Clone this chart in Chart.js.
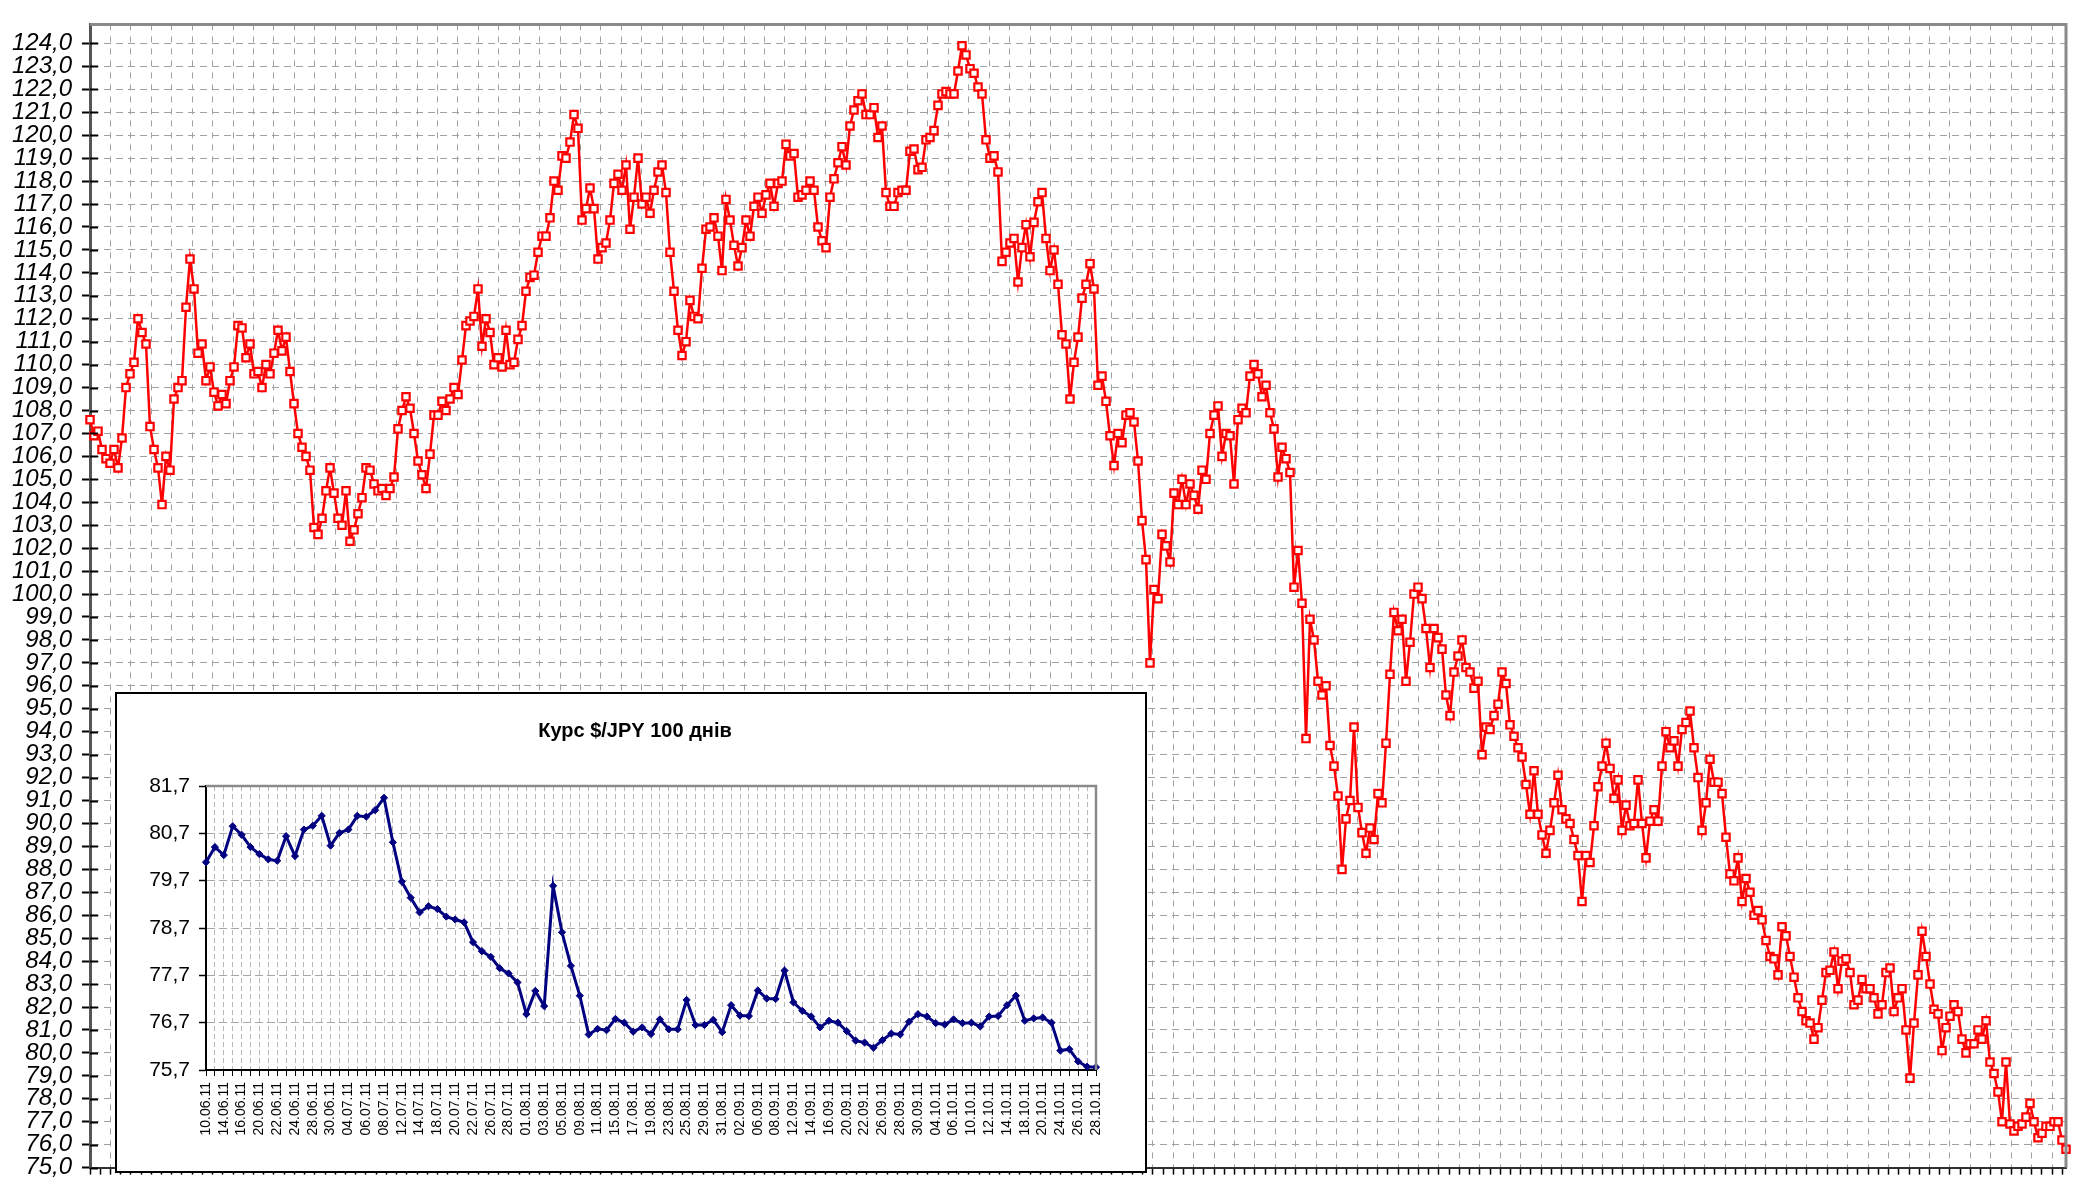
<!DOCTYPE html>
<html>
<head>
<meta charset="utf-8">
<script src="https://cdn.jsdelivr.net/npm/chart.js@4.4.1/dist/chart.umd.min.js"></script>
<style>
  html, body { margin: 0; padding: 0; background: #ffffff; }
  #wrap { position: relative; width: 2078px; height: 1192px; background: #ffffff; overflow: hidden; }
  #mainCanvas { position: absolute; left: 0; top: 0; }
  #insetBox { position: absolute; left: 115px; top: 692px; width: 1032px; height: 481px;
              box-sizing: border-box; border: 2px solid #000; background: #fff; }
  #insetCanvas { position: absolute; left: 0; top: 0; }
</style>
</head>
<body>
<div id="wrap">
  <canvas id="mainCanvas" width="2078" height="1192"></canvas>
  <div id="insetBox"><canvas id="insetCanvas" width="1028" height="477"></canvas></div>
</div>
<script>
// ---------------- DATA ----------------
// Main series: USD/JPY course (red)
const mainValues = [
107.6,106.9,107.1,106.3,105.9,105.7,106.3,105.5,106.8,109.0,
109.6,110.1,112.0,111.4,110.9,107.3,106.3,105.5,103.9,106.0,
105.4,108.5,109.0,109.3,112.5,114.6,113.3,110.5,110.9,109.3,
109.9,108.8,108.2,108.7,108.3,109.3,109.9,111.7,111.6,110.3,
110.9,109.6,109.7,109.0,110.0,109.6,110.5,111.5,110.6,111.2,
109.7,108.3,107.0,106.4,106.0,105.4,102.9,102.6,103.3,104.5,
105.5,104.4,103.3,103.0,104.5,102.3,102.8,103.5,104.2,105.5,
105.4,104.8,104.5,104.6,104.3,104.6,105.1,107.2,108.0,108.6,
108.1,107.0,105.8,105.2,104.6,106.1,107.8,107.8,108.4,108.0,
108.5,109.0,108.7,110.2,111.7,111.9,112.1,113.3,110.8,112.0,
111.4,110.0,110.3,109.9,111.5,110.0,110.1,111.1,111.7,113.2,
113.8,113.9,114.9,115.6,115.6,116.4,118.0,117.6,119.1,119.0,
119.7,120.9,120.3,116.3,116.8,117.7,116.8,114.6,115.1,115.3,
116.3,117.9,118.3,117.6,118.7,115.9,117.3,119.0,117.0,117.3,
116.6,117.6,118.4,118.7,117.5,114.9,113.2,111.5,110.4,111.0,
112.8,112.1,112.0,114.2,115.9,116.0,116.4,115.6,114.1,117.2,
116.3,115.2,114.3,115.1,116.3,115.6,116.9,117.3,116.6,117.4,
117.9,116.9,117.9,118.0,119.6,119.1,119.2,117.3,117.4,117.6,
118.0,117.6,116.0,115.4,115.1,117.3,118.1,118.8,119.5,118.7,
120.4,121.1,121.5,121.8,120.9,120.9,121.2,119.9,120.4,117.5,
116.9,116.9,117.5,117.6,117.6,119.3,119.4,118.5,118.6,119.8,
119.9,120.2,121.3,121.8,121.9,121.8,121.8,122.8,123.9,123.5,
122.9,122.7,122.1,121.8,119.8,119.0,119.1,118.4,114.5,114.9,
115.3,115.5,113.6,115.1,116.1,114.7,116.2,117.1,117.5,115.5,
114.1,115.0,113.5,111.3,110.9,108.5,110.1,111.2,112.9,113.5,
114.4,113.3,109.1,109.5,108.4,106.9,105.6,107.0,106.6,107.8,
107.9,107.5,105.8,103.2,101.5,97.0,100.2,99.8,102.6,102.1,
101.4,104.4,103.9,105.0,103.9,104.8,104.3,103.7,105.4,105.0,
107.0,107.8,108.2,106.0,107.0,106.9,104.8,107.6,108.1,107.9,
109.5,110.0,109.6,108.6,109.1,107.9,107.2,105.1,106.4,105.9,
105.3,100.3,101.9,99.6,93.7,98.9,98.0,96.2,95.6,96.0,
93.4,92.5,91.2,88.0,90.2,91.0,94.2,90.7,89.6,88.7,
89.8,89.3,91.3,90.9,93.5,96.5,99.2,98.4,98.9,96.2,
97.9,100.0,100.3,99.8,98.5,96.8,98.5,98.1,97.6,95.6,
94.7,96.6,97.3,98.0,96.8,96.6,95.9,96.2,93.0,94.2,
94.1,94.7,95.2,96.6,96.1,94.3,93.8,93.3,92.9,91.7,
90.4,92.3,90.4,89.5,88.7,89.7,90.9,92.1,90.6,90.2,
90.0,89.3,88.6,86.6,88.6,88.3,89.9,91.6,92.5,93.5,
92.4,91.1,91.9,89.7,90.8,89.9,90.0,91.9,90.0,88.5,
90.1,90.6,90.1,92.5,94.0,93.3,93.6,92.5,94.1,94.4,
94.9,93.3,92.0,89.7,90.9,92.8,91.8,91.8,91.3,89.4,
87.8,87.5,88.5,86.6,87.6,87.0,86.0,86.2,85.8,84.9,
84.2,84.1,83.4,85.5,85.1,84.2,83.3,82.4,81.8,81.4,
81.3,80.6,81.1,82.3,83.5,83.6,84.4,82.8,84.0,84.1,
83.5,82.1,82.3,83.2,82.8,82.8,82.4,81.7,82.1,83.5,
83.7,81.8,82.4,82.8,81.0,78.9,81.3,83.4,85.3,84.2,
83.0,81.9,81.7,80.1,81.1,81.6,82.1,81.8,80.6,80.0,
80.4,80.4,81.0,80.6,81.4,79.6,79.1,78.3,77.0,79.6,
76.9,76.6,76.8,76.9,77.2,77.8,77.0,76.3,76.5,76.8,
76.8,77.0,77.0,76.2,75.8
];
const mainCategories = mainValues.map((v, i) => String(i + 1));
const mainYMin = 75;
const mainYMax = 124.83;
const mainYTickValues = [];
for (let v = 75; v <= 124; v++) mainYTickValues.push(v);
const mainXTickCount = 194; // minor tick marks along the bottom axis

// Inset: last 100 days
const insetTitle = 'Курс $/JPY 100 днів';
const insetDates = [
'10.06.11','13.06.11','14.06.11','15.06.11','16.06.11','17.06.11','20.06.11','21.06.11','22.06.11','23.06.11',
'24.06.11','27.06.11','28.06.11','29.06.11','30.06.11','01.07.11','04.07.11','05.07.11','06.07.11','07.07.11',
'08.07.11','11.07.11','12.07.11','13.07.11','14.07.11','15.07.11','18.07.11','19.07.11','20.07.11','21.07.11',
'22.07.11','25.07.11','26.07.11','27.07.11','28.07.11','29.07.11','01.08.11','02.08.11','03.08.11','04.08.11',
'05.08.11','08.08.11','09.08.11','10.08.11','11.08.11','12.08.11','15.08.11','16.08.11','17.08.11','18.08.11',
'19.08.11','22.08.11','23.08.11','24.08.11','25.08.11','26.08.11','29.08.11','30.08.11','31.08.11','01.09.11',
'02.09.11','05.09.11','06.09.11','07.09.11','08.09.11','09.09.11','12.09.11','13.09.11','14.09.11','15.09.11',
'16.09.11','19.09.11','20.09.11','21.09.11','22.09.11','23.09.11','26.09.11','27.09.11','28.09.11','29.09.11',
'30.09.11','03.10.11','04.10.11','05.10.11','06.10.11','07.10.11','10.10.11','11.10.11','12.10.11','13.10.11',
'14.10.11','17.10.11','18.10.11','19.10.11','20.10.11','21.10.11','24.10.11','25.10.11','26.10.11','27.10.11',
'28.10.11'
];
const insetValues = [
80.09,80.41,80.24,80.85,80.67,80.41,80.26,80.15,80.12,80.64,
80.22,80.78,80.86,81.07,80.44,80.71,80.78,81.07,81.05,81.19,
81.45,80.51,79.68,79.34,79.03,79.16,79.10,78.94,78.88,78.82,
78.40,78.21,78.09,77.85,77.74,77.55,76.88,77.37,77.05,79.59,
78.61,77.90,77.27,76.45,76.57,76.54,76.78,76.70,76.51,76.60,
76.46,76.77,76.56,76.56,77.18,76.65,76.65,76.76,76.50,77.07,
76.85,76.84,77.38,77.21,77.20,77.80,77.13,76.95,76.83,76.60,
76.74,76.70,76.52,76.32,76.28,76.17,76.33,76.47,76.45,76.72,
76.88,76.83,76.69,76.66,76.77,76.69,76.70,76.62,76.83,76.84,
77.07,77.27,76.74,76.79,76.81,76.70,76.11,76.14,75.88,75.77,
75.76
];
const insetYTickValues = [75.7, 76.7, 77.7, 78.7, 79.7, 80.7, 81.7];

// ---------------- HELPERS ----------------
const fmt1 = v => (Math.round(v * 10) / 10).toFixed(1).replace('.', ',');
const FONT = "'Liberation Sans', Arial, sans-serif";

// frame plugin for the main chart: top/right borders + inner y tick marks
const mainFrame = {
  id: 'mainFrame',
  afterDraw(chart) {
    const {ctx, chartArea: a} = chart;
    ctx.save();
    ctx.strokeStyle = '#8a8a8a';
    ctx.lineWidth = 3;
    ctx.beginPath();
    ctx.moveTo(a.left, a.top);
    ctx.lineTo(a.right, a.top);
    ctx.lineTo(a.right, a.bottom);
    ctx.stroke();
    const ys = chart.scales.y;
    ctx.strokeStyle = '#000';
    ctx.lineWidth = 2;
    ys.ticks.forEach(t => {
      const y = Math.round(ys.getPixelForValue(t.value)) + 0.5;
      ctx.beginPath();
      ctx.moveTo(a.left, y);
      ctx.lineTo(a.left + 8, y);
      ctx.stroke();
    });
    ctx.restore();
  }
};

const insetFrame = {
  id: 'insetFrame',
  afterDraw(chart) {
    const {ctx, chartArea: a} = chart;
    ctx.save();
    ctx.strokeStyle = '#8a8a8a';
    ctx.lineWidth = 2.5;
    ctx.beginPath();
    ctx.moveTo(a.left, a.top);
    ctx.lineTo(a.right, a.top);
    ctx.lineTo(a.right, a.bottom);
    ctx.stroke();
    // title
    ctx.fillStyle = '#000';
    ctx.font = "bold 20px " + FONT;
    ctx.textAlign = 'center';
    ctx.textBaseline = 'middle';
    ctx.fillText(insetTitle, 518, 37);
    ctx.restore();
  }
};

// ---------------- MAIN CHART ----------------
new Chart(document.getElementById('mainCanvas'), {
  type: 'line',
  data: {
    labels: mainCategories,
    datasets: [{
      data: mainValues,
      borderColor: '#ff0000',
      borderWidth: 2.5,
      pointStyle: 'rect',
      pointRadius: 5.2,
      pointBorderWidth: 2.2,
      pointBorderColor: '#ff0000',
      pointBackgroundColor: '#ffffff',
      tension: 0,
      xAxisID: 'x',
      yAxisID: 'y'
    }]
  },
  options: {
    responsive: false,
    animation: false,
    devicePixelRatio: 1,
    layout: { padding: { top: 3, right: 12, left: 0, bottom: 0 } },
    plugins: { legend: { display: false }, tooltip: { enabled: false }, title: { display: false } },
    scales: {
      x: { type: 'category', display: false, offset: false },
      x2: {
        type: 'linear', position: 'bottom', min: 0, max: mainXTickCount * 0.9967,
        afterBuildTicks: s => { const t = []; for (let i = 0; i < mainXTickCount; i++) t.push({ value: i }); s.ticks = t; },
        afterFit: s => { s.height = 11; },
        ticks: { display: false },
        grid: {
          color: c => (c.index % 2 === 0 ? '#a0a0a0' : 'rgba(0,0,0,0)'),
          lineWidth: 1, drawTicks: true, tickLength: 7, tickColor: '#000', tickWidth: 1.5
        },
        border: { display: true, color: '#303030', width: 2, dash: [6, 6] }
      },
      y: {
        type: 'linear', min: mainYMin, max: mainYMax,
        afterBuildTicks: s => { s.ticks = mainYTickValues.map(v => ({ value: v })); },
        afterFit: s => { s.width = 90; },
        ticks: {
          autoSkip: false, padding: 10, color: '#000',
          font: { family: FONT, size: 24, style: 'italic' },
          callback: v => fmt1(v)
        },
        grid: { color: '#a0a0a0', lineWidth: 1, tickLength: 8, tickColor: '#000', tickWidth: 2 },
        border: { display: true, color: '#555555', width: 3, dash: [7, 5] }
      }
    }
  },
  plugins: [mainFrame]
});

// ---------------- INSET CHART ----------------
new Chart(document.getElementById('insetCanvas'), {
  type: 'line',
  data: {
    labels: insetDates,
    datasets: [{
      data: insetValues,
      borderColor: '#000080',
      borderWidth: 3,
      pointStyle: 'rectRot',
      pointRadius: 3.6,
      pointBorderWidth: 1,
      pointBorderColor: '#000080',
      pointBackgroundColor: '#000080',
      tension: 0
    }]
  },
  options: {
    responsive: false,
    animation: false,
    devicePixelRatio: 1,
    layout: { padding: { top: 92, right: 49, left: 0, bottom: 0 } },
    plugins: {
      legend: { display: false }, tooltip: { enabled: false },
      title: { display: false }
    },
    scales: {
      x: {
        type: 'category', offset: false,
        afterFit: s => { s.height = 101; },
        ticks: {
          autoSkip: false, minRotation: 90, maxRotation: 90, padding: 6, color: '#000',
          font: { family: FONT, size: 14 },
          callback: function (v, i) { return i % 2 === 0 ? this.getLabelForValue(v) : ''; }
        },
        grid: { color: '#b8b8b8', lineWidth: 1, tickLength: 6, tickColor: '#000', tickWidth: 1 },
        border: { display: true, color: '#000', width: 2, dash: [5, 3] }
      },
      y: {
        type: 'linear', min: 75.7, max: 81.7,
        afterBuildTicks: s => { s.ticks = insetYTickValues.map(v => ({ value: v })); },
        afterFit: s => { s.width = 89; },
        ticks: {
          autoSkip: false, padding: 9, color: '#000',
          font: { family: FONT, size: 21 },
          callback: v => fmt1(v)
        },
        grid: { color: '#a8a8a8', lineWidth: 1, tickLength: 7, tickColor: '#000', tickWidth: 1.5 },
        border: { display: true, color: '#000', width: 2, dash: [8, 4] }
      }
    }
  },
  plugins: [insetFrame]
});
</script>
</body>
</html>
